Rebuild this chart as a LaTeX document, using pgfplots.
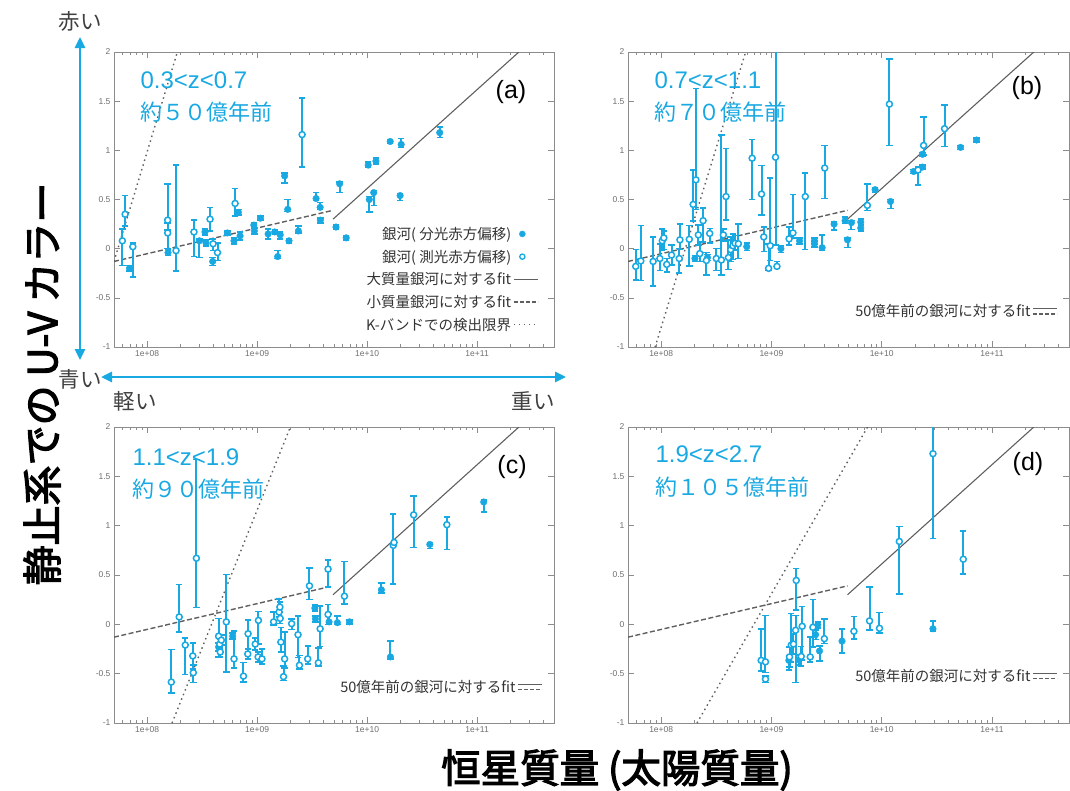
\documentclass[border=0pt]{standalone}
\usepackage{fontspec}
\usepackage{pgfplots}
\pgfplotsset{compat=1.18}
\usepackage{pgfplotstable}
\usetikzlibrary{arrows.meta}
\setmainfont{Liberation Sans}
\newfontfamily\jp{Noto Sans CJK JP}
\newfontfamily\jpb[FakeBold=3]{Noto Sans CJK JP}
\definecolor{cy}{RGB}{24,168,226}
\definecolor{fitgray}{RGB}{95,95,95}
\definecolor{tickgray}{RGB}{110,110,110}
\definecolor{framegray}{RGB}{140,140,140}

% ---------- data: x = log10(stellar mass), y = U-V, ep/em = error plus/minus
\pgfplotstableread[row sep=\\]{
x y ep em\\
7.84 -0.20 0.03 0.03\\
8.19 -0.04 0.03 0.03\\
8.475 0.08 0.02 0.17\\
8.526 0.17 0.03 0.03\\
8.535 0.06 0.03 0.03\\
8.596 -0.13 0.04 0.04\\
8.729 0.16 0.02 0.02\\
8.79 0.08 0.03 0.03\\
8.83 0.37 0.03 0.03\\
8.845 0.13 0.04 0.04\\
8.97 0.24 0.02 0.02\\
8.975 0.18 0.03 0.03\\
9.03 0.31 0.02 0.02\\
9.10 0.15 0.05 0.05\\
9.16 0.17 0.02 0.02\\
9.187 -0.08 0.06 0.02\\
9.21 0.14 0.03 0.04\\
9.25 0.74 0.03 0.07\\
9.278 0.40 0.10 0.02\\
9.29 0.08 0.02 0.02\\
9.375 0.18 0.05 0.02\\
9.536 0.51 0.06 0.02\\
9.573 0.42 0.05 0.02\\
9.575 0.29 0.02 0.03\\
9.717 0.22 0.02 0.02\\
9.75 0.66 0.02 0.09\\
9.81 0.11 0.02 0.02\\
10.01 0.85 0.03 0.02\\
10.08 0.89 0.03 0.03\\
10.02 0.50 0.03 0.13\\
10.06 0.57 0.02 0.13\\
10.21 1.09 0.02 0.02\\
10.31 1.06 0.06 0.03\\
10.30 0.54 0.02 0.05\\
10.66 1.18 0.06 0.05\\
}\aSpec
\pgfplotstableread[row sep=\\]{
x y ep em\\
7.80 0.35 0.19 0.12\\
7.775 0.08 0.12 0.25\\
7.87 0.02 0.04 0.31\\
8.187 0.29 0.37 0.10\\
8.187 0.16 0.10 0.16\\
8.263 -0.02 0.87 0.21\\
8.426 0.17 0.12 0.25\\
8.572 0.30 0.12 0.12\\
8.60 0.05 0.05 0.07\\
8.64 -0.04 0.10 0.08\\
8.80 0.46 0.15 0.13\\
9.409 1.16 0.37 0.33\\
}\aPhot
\pgfplotstableread[row sep=\\]{
x y ep em\\
8.306 -0.10 0.03 0.03\\
8.42 -0.09 0.03 0.03\\
8.776 0.02 0.04 0.04\\
9.086 0.00 0.03 0.04\\
9.255 0.08 0.03 0.03\\
9.39 0.08 0.03 0.03\\
9.39 0.05 0.03 0.03\\
9.46 0.01 0.13 0.03\\
9.568 0.25 0.02 0.06\\
9.668 0.285 0.04 0.03\\
9.69 0.09 0.02 0.08\\
9.726 0.265 0.02 0.07\\
9.81 0.27 0.03 0.03\\
9.81 0.21 0.03 0.03\\
9.94 0.60 0.02 0.03\\
10.08 0.48 0.02 0.07\\
10.29 0.785 0.02 0.02\\
10.37 0.83 0.02 0.02\\
10.37 0.96 0.02 0.02\\
10.715 1.03 0.02 0.02\\
10.86 1.105 0.02 0.02\\
}\bSpec
\pgfplotstableread[row sep=\\]{
x y ep em\\
7.769 -0.18 0.17 0.14\\
7.815 -0.125 0.36 0.20\\
7.927 -0.13 0.25 0.25\\
7.988 -0.10 0.15 0.12\\
8.01 0.08 0.12 0.10\\
8.024 0.11 0.07 0.12\\
8.05 -0.16 0.06 0.08\\
8.094 -0.065 0.10 0.10\\
8.164 -0.10 0.10 0.15\\
8.17 0.09 0.16 0.10\\
8.255 0.095 0.14 0.27\\
8.29 0.45 0.35 0.17\\
8.315 0.70 0.93 0.30\\
8.337 0.14 0.10 0.10\\
8.35 -0.05 0.12 0.08\\
8.38 0.285 0.13 0.22\\
8.41 -0.12 0.08 0.15\\
8.44 0.155 0.05 0.10\\
8.50 -0.10 0.10 0.12\\
8.546 -0.115 1.27 0.15\\
8.564 0.14 0.06 0.06\\
8.588 0.53 0.49 0.24\\
8.61 -0.09 0.18 0.12\\
8.63 -0.01 0.13 0.12\\
8.65 0.03 0.12 0.14\\
8.67 0.055 0.08 0.07\\
8.70 0.05 0.20 0.15\\
8.825 0.92 0.19 0.42\\
8.91 0.555 0.29 0.21\\
8.93 0.12 0.10 0.15\\
8.974 -0.20 0.25 0.02\\
8.989 0.03 0.69 0.15\\
9.037 0.93 1.10 0.89\\
9.05 -0.18 0.05 0.02\\
9.16 0.10 0.12 0.06\\
9.195 0.16 0.39 0.05\\
9.307 0.53 0.24 0.54\\
9.483 0.82 0.23 0.31\\
9.87 0.44 0.22 0.05\\
10.07 1.47 0.46 0.42\\
10.33 0.80 0.03 0.15\\
10.38 1.05 0.29 0.10\\
10.57 1.22 0.24 0.18\\
}\bPhot
\pgfplotstableread[row sep=\\]{
x y ep em\\
8.65 -0.23 0.04 0.04\\
8.778 -0.12 0.03 0.03\\
9.525 0.165 0.03 0.03\\
9.53 0.055 0.03 0.03\\
9.654 0.025 0.08 0.02\\
9.73 0.017 0.07 0.02\\
9.84 0.025 0.02 0.02\\
10.13 0.35 0.07 0.03\\
10.212 -0.33 0.16 0.02\\
10.57 0.81 0.02 0.04\\
11.06 1.24 0.02 0.10\\
}\cSpec
\pgfplotstableread[row sep=\\]{
x y ep em\\
8.22 -0.585 0.33 0.11\\
8.292 0.075 0.33 0.15\\
8.347 -0.21 0.07 0.30\\
8.415 -0.32 0.13 0.13\\
8.42 -0.49 0.08 0.10\\
8.448 0.67 1.00 0.50\\
8.65 -0.12 0.18 0.21\\
8.66 -0.20 0.05 0.05\\
8.665 -0.28 0.05 0.05\\
8.675 -0.16 0.05 0.05\\
8.72 0.025 0.48 0.51\\
8.79 -0.35 0.28 0.09\\
8.876 -0.525 0.14 0.06\\
8.918 -0.095 0.14 0.21\\
8.915 -0.30 0.05 0.05\\
8.983 -0.20 0.06 0.06\\
9.012 0.04 0.09 0.24\\
9.009 -0.33 0.05 0.05\\
9.044 -0.35 0.10 0.05\\
9.15 0.025 0.10 0.03\\
9.20 0.125 0.13 0.05\\
9.207 0.175 0.05 0.05\\
9.21 0.06 0.06 0.05\\
9.216 -0.18 0.15 0.10\\
9.25 -0.35 0.27 0.09\\
9.24 -0.53 0.11 0.04\\
9.314 0.007 0.05 0.06\\
9.372 -0.105 0.19 0.23\\
9.385 -0.415 0.10 0.04\\
9.46 -0.35 0.13 0.05\\
9.476 0.39 0.18 0.14\\
9.557 -0.39 0.15 0.03\\
9.573 -0.045 0.23 0.18\\
9.645 0.56 0.09 0.18\\
9.645 0.10 0.10 0.10\\
9.794 0.285 0.35 0.08\\
10.238 0.80 0.32 0.39\\
10.245 0.83 0.02 0.02\\
10.423 1.11 0.19 0.33\\
10.725 1.01 0.08 0.25\\
}\cPhot
\pgfplotstableread[row sep=\\]{
x y ep em\\
9.158 -0.365 0.05 0.10\\
9.246 -0.36 0.05 0.05\\
9.40 -0.105 0.05 0.05\\
9.42 -0.005 0.03 0.03\\
9.436 -0.27 0.05 0.10\\
9.64 -0.17 0.12 0.12\\
10.465 -0.045 0.08 0.02\\
}\dSpec
\pgfplotstableread[row sep=\\]{
x y ep em\\
8.907 -0.365 0.315 0.105\\
8.946 -0.38 0.47 0.11\\
8.946 -0.555 0.03 0.035\\
9.164 -0.33 0.10 0.10\\
9.18 -0.21 0.32 0.17\\
9.20 -0.20 0.10 0.10\\
9.219 -0.06 0.15 0.53\\
9.225 0.445 0.12 0.30\\
9.27 -0.325 0.10 0.10\\
9.279 -0.02 0.20 0.34\\
9.352 -0.33 0.20 0.05\\
9.376 -0.03 0.28 0.20\\
9.48 -0.145 0.20 0.05\\
9.748 -0.07 0.15 0.08\\
9.89 0.035 0.345 0.095\\
9.98 -0.04 0.16 0.05\\
10.16 0.84 0.15 0.53\\
10.465 1.73 0.30 0.86\\
10.74 0.66 0.285 0.15\\
}\dPhot

\pgfplotsset{
 panel/.style={
  scale only axis, width=440pt, height=295pt, anchor=south west,
  xmin=7.699, xmax=11.699, ymin=-1, ymax=2,
  xtick={8,9,10,11}, xticklabels={1e+08,1e+09,1e+10,1e+11},
  minor xtick={7.778,7.845,7.903,7.954,8.301,8.477,8.602,8.699,8.778,8.845,8.903,8.954,9.301,9.477,9.602,9.699,9.778,9.845,9.903,9.954,10.301,10.477,10.602,10.699,10.778,10.845,10.903,10.954,11.301,11.477,11.602},
  ytick={-1,-0.5,0,0.5,1,1.5,2},
  yticklabels={-1,-0.5,0,0.5,1,1.5,2},
  tick align=inside, xtick pos=both, ytick pos=both,
  major tick length=6pt, minor tick length=3pt,
  axis line style={framegray, line width=0.9pt},
  every tick/.append style={framegray, line width=0.6pt},
  tick label style={font=\fontsize{8.5}{9}\selectfont, text=tickgray},
  /pgf/number format/assume math mode=true,
  legend cell align=right, legend plot pos=right,
  legend style={draw=none, fill=none, inner sep=0pt, row sep=5pt,
     font=\jp\fontsize{14.5}{17}\selectfont, text=black!80, anchor=north east},
 },
 specpl/.style={forget plot, only marks, mark=*, mark size=3.3pt, color=cy,
   error bars/.cd, y dir=both, y explicit,
   error bar style={line width=2pt, cy},
   error mark options={rotate=90, line width=1.6pt, mark size=3.2pt, cy}},
 photpl/.style={forget plot, only marks, mark=*, mark size=3pt, color=cy,
   mark options={fill=white, draw=cy, line width=1.5pt},
   error bars/.cd, y dir=both, y explicit,
   error bar style={line width=2pt, cy},
   error mark options={rotate=90, line width=1.6pt, mark size=3.2pt, cy}},
 bigfit/.style={forget plot, fitgray, line width=1.1pt},
 smallfit/.style={forget plot, fitgray, line width=1.4pt, dash pattern=on 5pt off 2.5pt},
 klim/.style={forget plot, fitgray, line width=1.4pt, dash pattern=on 1.5pt off 3.5pt},
 leg solid/.style={legend image code/.code={\draw[fitgray, line width=0.9pt] (0pt,0pt) -- (24pt,0pt);}},
 leg dashed/.style={legend image code/.code={\draw[fitgray, line width=1.2pt, dash pattern=on 4pt off 2pt] (0pt,0pt) -- (24pt,0pt);}},
 leg dotted/.style={legend image code/.code={\draw[fitgray, line width=1.2pt, dash pattern=on 1.5pt off 3.5pt] (0pt,0pt) -- (24pt,0pt);}},
 leg both/.style={legend image code/.code={\draw[fitgray, line width=0.9pt] (0pt,2.8pt) -- (24pt,2.8pt); \draw[fitgray, line width=1.2pt, dash pattern=on 4pt off 2pt] (0pt,-2.8pt) -- (24pt,-2.8pt);}},
}
\newcommand{\pts}[2]{%
  \addplot[specpl] table[x=x,y=y,y error plus=ep,y error minus=em]{#1};
  \addplot[photpl] table[x=x,y=y,y error plus=ep,y error minus=em]{#2};}

\begin{document}
\begin{tikzpicture}
\useasboundingbox (0pt,0pt) rectangle (1070pt,-790pt);

% ---------- (a)
\begin{axis}[panel, at={(114pt,-347pt)},
  legend style={at={(axis description cs:0.965,0.414)}}]
\addplot[klim] coordinates {(7.699,-0.13) (8.275,2)};
\addplot[smallfit] coordinates {(7.699,-0.13) (9.69,0.39)};
\addplot[bigfit] coordinates {(9.69,0.30) (11.38,2)};
\pts{\aSpec}{\aPhot}
\addlegendimage{only marks, mark=*, mark size=3pt, cy}
\addlegendentry{銀河( 分光赤方偏移)}
\addlegendimage{only marks, mark=*, mark size=2.6pt, mark options={fill=white, draw=cy, line width=1.3pt}}
\addlegendentry{銀河( 測光赤方偏移)}
\addlegendimage{leg solid}
\addlegendentry{大質量銀河に対するfit}
\addlegendimage{leg dashed}
\addlegendentry{小質量銀河に対するfit}
\addlegendimage{leg dotted}
\addlegendentry{K-バンドでの検出限界}
\end{axis}

% ---------- (b)
\begin{axis}[panel, at={(628pt,-347pt)}, width=441pt,
  legend style={at={(axis description cs:0.975,0.152)}}]
\addplot[klim] coordinates {(7.945,-1) (8.766,2)};
\addplot[smallfit] coordinates {(7.699,-0.13) (9.69,0.39)};
\addplot[bigfit] coordinates {(9.69,0.30) (11.38,2)};
\pts{\bSpec}{\bPhot}
\addlegendimage{leg both}
\addlegendentry{50億年前の銀河に対するfit}
\end{axis}

% ---------- (c)
\begin{axis}[panel, at={(114pt,-723pt)}, height=296pt,
  legend style={at={(axis description cs:0.975,0.152)}}]
\addplot[klim] coordinates {(8.227,-1) (9.302,2)};
\addplot[smallfit] coordinates {(7.699,-0.13) (9.69,0.39)};
\addplot[bigfit] coordinates {(9.69,0.30) (11.38,2)};
\pts{\cSpec}{\cPhot}
\addlegendimage{leg both}
\addlegendentry{50億年前の銀河に対するfit}
\end{axis}

% ---------- (d)
\begin{axis}[panel, at={(628pt,-723pt)}, width=441pt, height=296pt,
  legend style={at={(axis description cs:0.975,0.19)}}]
\addplot[klim] coordinates {(8.325,-1) (9.872,2)};
\addplot[smallfit] coordinates {(7.699,-0.13) (9.69,0.39)};
\addplot[bigfit] coordinates {(9.69,0.30) (11.38,2)};
\pts{\dSpec}{\dPhot}
\addlegendimage{leg both}
\addlegendentry{50億年前の銀河に対するfit}
\end{axis}

% ---------- annotations
\begin{scope}[text=cy]
\node[anchor=base west, font=\fontsize{24}{24}\selectfont] at (137pt,-88pt) {0.3<z<0.7};
\node[anchor=base west, font=\jp\fontsize{22}{22}\selectfont] at (137pt,-120pt) {約５０億年前};
\node[anchor=base west, font=\fontsize{24}{24}\selectfont] at (651pt,-88pt) {0.7<z<1.1};
\node[anchor=base west, font=\jp\fontsize{22}{22}\selectfont] at (651pt,-120pt) {約７０億年前};
\node[anchor=base west, font=\fontsize{24}{24}\selectfont] at (129pt,-465pt) {1.1<z<1.9};
\node[anchor=base west, font=\jp\fontsize{22}{22}\selectfont] at (129pt,-497pt) {約９０億年前};
\node[anchor=base west, font=\fontsize{24}{24}\selectfont] at (652pt,-462pt) {1.9<z<2.7};
\node[anchor=base west, font=\jp\fontsize{22}{22}\selectfont] at (652pt,-495pt) {約１０５億年前};
\end{scope}
\node[font=\fontsize{25}{25}\selectfont] at (511pt,-92pt) {(a)};
\node[font=\fontsize{25}{25}\selectfont] at (1027pt,-88pt) {(b)};
\node[font=\fontsize{25}{25}\selectfont] at (512pt,-467pt) {(c)};
\node[font=\fontsize{25}{25}\selectfont] at (1028pt,-464pt) {(d)};

% arrows
\draw[cy, line width=2.6pt, {Triangle[length=11pt,width=10pt]}-{Triangle[length=11pt,width=10pt]}] (80pt,-37pt) -- (80pt,-360pt);
\draw[cy, line width=2.6pt, {Triangle[length=11pt,width=10pt]}-{Triangle[length=11pt,width=10pt]}] (101pt,-377pt) -- (566pt,-377pt);
\begin{scope}[font=\jp\fontsize{21.5}{21.5}\selectfont, text=black!75]
\node at (80pt,-21pt) {赤い};
\node at (80pt,-379pt) {青い};
\node at (135pt,-401pt) {軽い};
\node at (533pt,-401pt) {重い};
\end{scope}

% axis titles
\node[rotate=90, font=\jpb\fontsize{40}{40}\selectfont] at (42pt,-384pt) {静止系での U-V カラー};
\node[font=\jpb\fontsize{39.5}{40}\selectfont] at (617pt,-770pt) {恒星質量 (太陽質量)};
\end{tikzpicture}
\end{document}
